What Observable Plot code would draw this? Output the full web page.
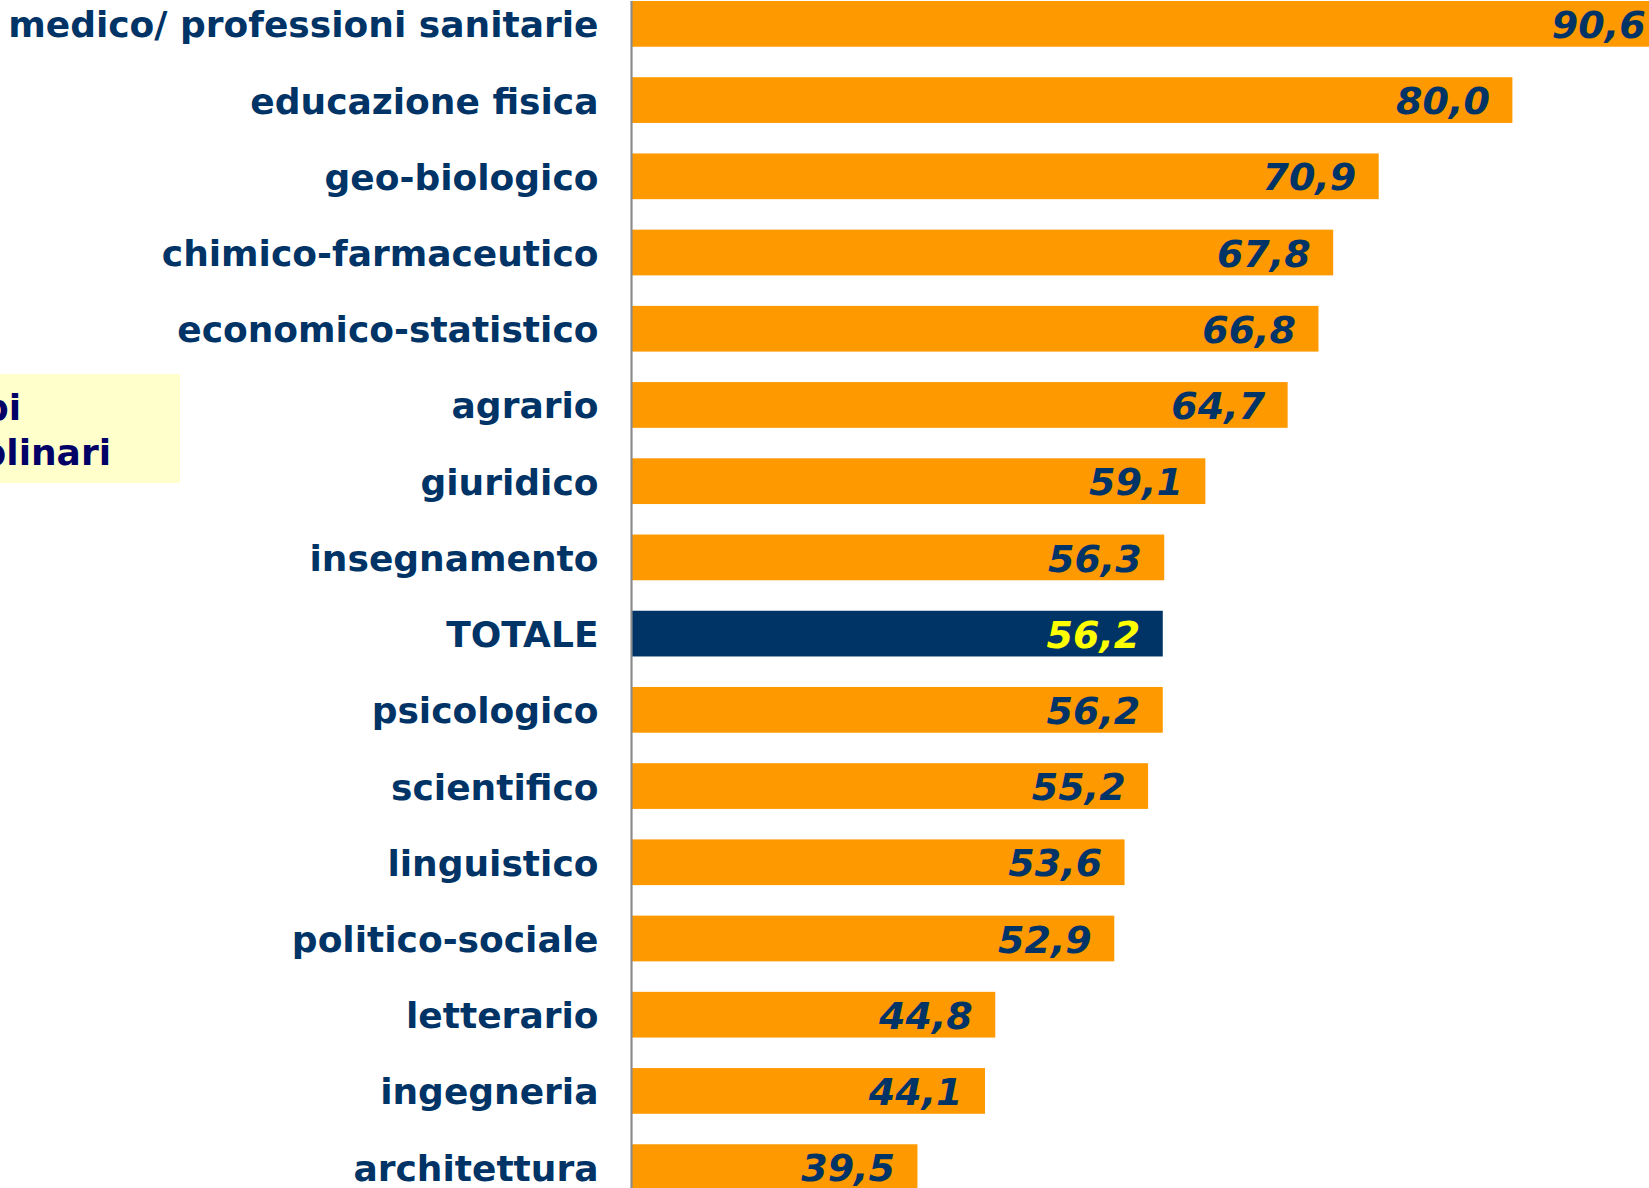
<!DOCTYPE html>
<html>
<head>
<meta charset="utf-8">
<script src="https://cdn.jsdelivr.net/npm/d3@7"></script>
<script src="https://cdn.jsdelivr.net/npm/@observablehq/plot@0.6"></script>
<style>
  html, body { margin: 0; padding: 0; background: #ffffff; overflow: hidden; }
  #wrap { position: relative; width: 1649px; height: 1188px; overflow: hidden; }
  #note { position: absolute; left: 0; top: 374px; width: 180px; height: 109px; background: #FFFFCC; }
  #note span { position: absolute; font-family: "DejaVu Sans", sans-serif; font-weight: bold; font-size: 36px; color: #000066; white-space: nowrap; line-height: 1; }
  #chart { position: absolute; left: 0; top: 0; }
</style>
</head>
<body>
<div id="wrap">
  <div id="chart"></div>
  <div id="note"><span id="l1">pi</span><span id="l2">plinari</span></div>
</div>
<script>
const categories = [
  "medico/ professioni sanitarie",
  "educazione fisica",
  "geo-biologico",
  "chimico-farmaceutico",
  "economico-statistico",
  "agrario",
  "giuridico",
  "insegnamento",
  "TOTALE",
  "psicologico",
  "scientifico",
  "linguistico",
  "politico-sociale",
  "letterario",
  "ingegneria",
  "architettura"
];
const values = [90.6, 80.0, 70.9, 67.8, 66.8, 64.7, 59.1, 56.3, 56.2, 56.2, 55.2, 53.6, 52.9, 44.8, 44.1, 39.5];
const totalLabel = "TOTALE";
const axisMin = 20;
const axisMax = 89.3;

const data = categories.map((c, i) => ({category: c, value: values[i], total: c === totalLabel}));
const fmt = v => d3.format(".1f")(v).replace(".", ",");

const chart = Plot.plot({
  width: 1649,
  height: 1190,
  marginTop: 1,
  marginBottom: 0,
  marginLeft: 631,
  marginRight: 0,
  style: {background: "transparent"},
  x: {domain: [axisMin, axisMax], axis: null},
  y: {domain: categories, paddingInner: 0.4, paddingOuter: 0, round: false, axis: null},
  marks: [
    Plot.barX(data, {
      y: "category",
      x1: () => axisMin,
      x2: "value",
      fill: d => d.total ? "#003366" : "#FF9900",
      clip: true
    }),
    Plot.ruleX([axisMin], {stroke: "#8c8c8c", strokeWidth: 2.2}),
    Plot.axisY({
      tickSize: 0,
      tickPadding: 33,
      fontSize: 36,
      fontWeight: "bold",
      fontFamily: "DejaVu Sans",
      fill: "#003366",
      dy: 1.5,
      label: null
    }),
    Plot.text(data, {
      y: "category",
      x: "value",
      text: d => fmt(d.value),
      textAnchor: "end",
      dx: -23,
      dy: 1.5,
      fontSize: 38,
      fontWeight: "bold",
      fontStyle: "italic",
      fontFamily: "DejaVu Sans",
      fill: d => d.total ? "#FFFF00" : "#003366"
    })
  ]
});
document.getElementById("chart").appendChild(chart);

const l1 = document.getElementById("l1");
const l2 = document.getElementById("l2");
l1.style.right = (180 - 21) + "px";
l2.style.right = (180 - 111) + "px";
l1.style.top = (45 - 36 * 0.80) + "px";
l2.style.top = (89.5 - 36 * 0.80) + "px";
</script>
</body>
</html>
